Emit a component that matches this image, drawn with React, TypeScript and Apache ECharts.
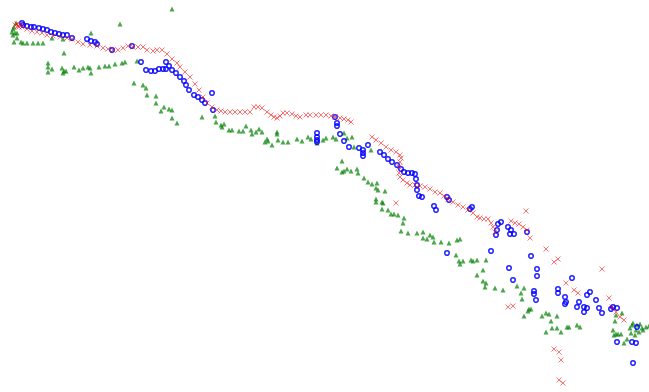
import React, { useEffect, useRef } from "react";
import * as echarts from "echarts";

// Values (x to the right, y downward; no axes are shown)
const redCross: number[][] = [
  [15,25],[17,24],[18,26],[20,25],[19,27],[22,27],[27,29],[32,31],[37,32],[42,33],[47,35],[53,36],[60,37],[67,38],[72,39],[78,42],[83,44],[90,45],[97,46],[103,48],[108,49],[113,50],[118,50],[123,48],[128,46],[133,47],[138,47],[143,47],[147,50],[153,51],[157,50],[162,50],[167,54],[172,59],[177,63],[180,67],[185,72],[190,77],[195,84],[199,90],[203,97],[207,103],[212,107],[217,110],[221,111],[225,112],[230,112],[235,112],[240,112],[245,112],[250,112],[254,107],[258,107],[262,108],[267,112],[271,115],[274,117],[277,118],[280,116],[283,113],[287,113],[292,114],[296,116],[300,117],[306,115],[310,115],[316,115],[321,115],[326,115],[331,116],[335,117],[340,118],[344,119],[348,120],[351,122],[372,137],[376,140],[381,143],[386,147],[391,150],[396,152],[400,155],[401,158],[400,162],[399,167],[399,173],[400,177],[403,180],[407,183],[410,185],[415,185],[420,186],[425,187],[430,189],[435,192],[440,193],[444,196],[448,199],[453,202],[458,205],[463,207],[468,210],[473,213],[477,217],[480,218],[484,219],[488,219],[491,223],[493,227],[495,232],[396,203],[511,221],[515,223],[519,224],[523,227],[527,230],[530,238],[526,211],[546,249],[554,262],[558,259],[566,283],[574,290],[578,293],[602,269],[609,298],[612,307],[616,312],[620,317],[624,320],[508,307],[513,306],[554,349],[559,352],[561,360],[559,380],[563,383]
];

const blueCircle: number[][] = [
  [22,23],[23,25],[27,26],[31,27],[34,27],[39,28],[43,29],[47,30],[51,32],[55,33],[59,34],[63,35],[67,35],[72,38],[87,39],[91,41],[95,42],[97,44],[112,50],[132,46],[141,62],[146,70],[151,71],[155,71],[159,69],[163,69],[166,69],[166,62],[169,66],[172,70],[176,73],[180,77],[184,81],[186,85],[189,90],[194,95],[198,97],[202,100],[205,103],[212,93],[213,110],[335,117],[337,123],[337,126],[317,133],[317,137],[317,140],[317,142],[340,134],[344,141],[349,147],[359,148],[363,150],[363,153],[363,156],[368,145],[380,152],[384,155],[388,159],[392,162],[397,165],[401,169],[404,172],[408,173],[412,173],[415,174],[416,179],[417,185],[417,190],[419,196],[422,197],[434,206],[436,210],[447,197],[449,200],[470,209],[472,207],[447,253],[491,251],[498,224],[501,222],[497,230],[496,235],[508,227],[511,230],[510,234],[514,234],[527,232],[531,256],[509,268],[513,280],[537,269],[537,276],[534,291],[534,294],[536,300],[558,289],[558,293],[565,297],[566,302],[565,304],[572,278],[579,302],[577,307],[584,307],[587,308],[584,312],[590,292],[587,295],[596,300],[599,308],[602,313],[611,309],[613,307],[617,308],[617,342],[632,342],[636,343],[633,363],[637,327]
];

const greenTriangle: number[][] = [
  [16,23],[14,27],[13,29],[12,32],[15,33],[13,35],[17,33],[14,42],[17,38],[21,42],[23,43],[27,43],[33,43],[38,43],[43,43],[52,38],[63,39],[91,33],[120,24],[172,9],[64,53],[48,63],[48,67],[48,72],[52,69],[62,68],[64,71],[66,71],[63,73],[74,67],[79,70],[83,68],[88,67],[90,68],[91,73],[99,67],[105,66],[109,66],[115,64],[122,63],[125,62],[137,61],[134,83],[143,85],[146,88],[147,95],[156,96],[156,103],[164,107],[161,111],[169,109],[172,110],[172,118],[177,123],[202,117],[215,116],[216,122],[221,125],[224,124],[222,127],[229,130],[232,130],[239,131],[243,131],[246,126],[251,130],[252,134],[256,132],[259,129],[262,132],[267,139],[265,142],[268,141],[272,145],[277,132],[277,134],[278,140],[283,142],[288,142],[297,139],[302,141],[308,137],[311,139],[317,143],[323,140],[326,138],[333,137],[336,139],[344,133],[347,138],[352,137],[354,147],[371,150],[342,161],[337,168],[342,172],[344,171],[347,169],[351,171],[357,169],[358,173],[364,178],[368,182],[372,184],[377,183],[376,188],[378,190],[385,191],[376,199],[376,202],[382,202],[383,203],[382,209],[388,210],[391,214],[394,214],[398,215],[404,218],[403,223],[401,231],[408,233],[417,233],[423,232],[423,238],[427,239],[430,235],[433,237],[434,242],[441,242],[449,243],[457,240],[460,239],[456,255],[459,261],[463,261],[460,264],[471,260],[473,261],[477,260],[486,260],[483,270],[477,275],[483,281],[486,283],[485,287],[495,288],[503,290],[517,286],[524,288],[521,293],[522,299],[529,309],[531,309],[528,311],[524,316],[542,316],[546,313],[549,314],[557,316],[551,321],[546,332],[552,328],[557,328],[561,332],[567,327],[569,327],[577,325],[580,327],[615,321],[616,315],[622,313],[613,330],[616,334],[618,334],[621,334],[614,335],[627,339],[624,343],[630,328],[632,325],[633,323],[637,325],[640,324],[642,328],[636,330],[639,332],[643,330],[646,327],[649,326],[635,335],[631,333]
];

const X_MAX = 649;
const Y_MAX = 392;

export default function App() {
  const ref = useRef<HTMLDivElement>(null);
  useEffect(() => {
    if (!ref.current) return;
    const chart = echarts.init(ref.current, null, { renderer: "svg" });
    chart.setOption({
      animation: false,
      backgroundColor: "#ffffff",
      grid: { left: 0, right: 0, top: 0, bottom: 0 },
      xAxis: { type: "value", min: 0, max: X_MAX, show: false },
      yAxis: { type: "value", min: 0, max: Y_MAX, inverse: true, show: false },
      tooltip: { show: false },
      series: [
        {
          name: "green",
          type: "scatter",
          data: greenTriangle,
          symbol: "triangle",
          symbolSize: 5,
          itemStyle: { color: "#008000", opacity: 0.7 },
        },
        {
          name: "blue",
          type: "scatter",
          data: blueCircle,
          symbol: "circle",
          symbolSize: 4.5,
          itemStyle: {
            color: "rgba(255,255,255,0)",
            borderColor: "#0000ff",
            borderWidth: 1.6,
            opacity: 0.85,
          },
        },
        {
          name: "red",
          type: "scatter",
          data: redCross,
          symbol: "path://M0,0L10,10M10,0L0,10",
          symbolSize: 5,
          itemStyle: {
            color: "rgba(255,0,0,0)",
            borderColor: "#ff0000",
            borderWidth: 1,
            opacity: 0.55,
          },
        },
      ],
    });
    return () => chart.dispose();
  }, []);
  return (
    <div
      ref={ref}
      style={{ position: "absolute", left: 0, top: 0, width: 649, height: 392 }}
    />
  );
}
